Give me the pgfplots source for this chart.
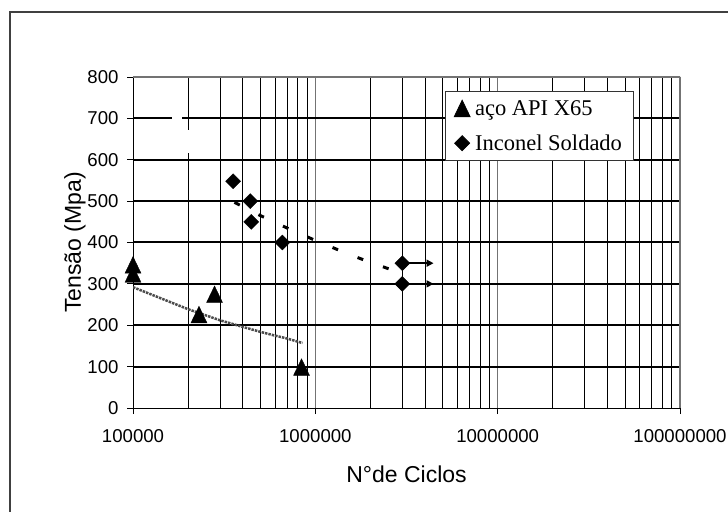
\documentclass[border=0pt]{standalone}
\usepackage{fontspec}
\setmainfont{Liberation Sans}
\newfontfamily\legfont{Liberation Serif}
\usepackage{pgfplots}
\pgfplotsset{compat=1.18}
\usetikzlibrary{arrows.meta}
\begin{document}
\begin{tikzpicture}
\useasboundingbox (0,0) rectangle (728bp,512bp);
\draw[line width=2bp, black!75] (10bp,0) -- (10bp,500bp) -- (728bp,500bp);
\begin{axis}[
  at={(133bp,104bp)}, anchor=south west,
  scale only axis, width=547bp, height=331bp,
  xmode=log, xmin=1e5, xmax=1e8, ymin=0, ymax=800,
  axis x line*=bottom, axis y line*=left,
  axis line style={black, line width=0.8bp},
  xtick={1e5,1e6,1e7,1e8}, xticklabels={100000,1000000,10000000,100000000},
  ytick={100,200,...,700}, extra y ticks={0,800}, extra y tick style={grid=none},
  ymajorgrids, xmajorgrids, xminorgrids,
  major y grid style={black, line width=2bp},
  major x grid style={black!55, line width=1bp},
  minor x grid style={black, line width=0.6bp},
  tick align=outside, major tick length=6bp, minor tick length=0bp,
  tick style={black, line width=0.8bp},
  tick label style={font=\fontsize{18.6bp}{20bp}\selectfont},
  xticklabel style={yshift=-12bp},
  yticklabel style={xshift=-5bp},
  /pgf/number format/assume math mode=true,
  every axis y label/.style={at={(axis description cs:-0.106,0.5)}, rotate=90, anchor=center, font=\fontsize{23bp}{25bp}\selectfont},
  every axis x label/.style={at={(axis description cs:0.50,-0.200)}, anchor=center, font=\fontsize{23bp}{25bp}\selectfont},
  ylabel={Tensão (Mpa)}, xlabel={N°de Ciclos},
  legend style={at={(0.570,0.958)}, anchor=north west, draw=black!80, line width=0.8bp,
    font=\legfont\fontsize{22.5bp}{24bp}\selectfont, inner xsep=9bp, inner ysep=7bp, row sep=14bp, column sep=3bp,
    cells={anchor=west}},
]
\draw[black!55, line width=1.2bp] (rel axis cs:0,1) -- (rel axis cs:1,1) -- (rel axis cs:1,0);
\addplot[forget plot, black!70, line width=2.5bp, densely dotted] coordinates {(1e5,292)(2e5,239)(3e5,212)(4e5,196)(5e5,184)(6e5,175)(7e5,168)(8.5e5,157)};
\addplot[forget plot, black, line width=3bp, dash pattern=on 6bp off 21bp] coordinates {(3.6e5,497)(5e5,465)(7e5,435)(1e6,405)(1.5e6,373)(2e6,352)(3e6,325)};
\addplot[forget plot, black, line width=1.5bp, -{Triangle[length=7bp,width=7bp]}] coordinates {(3e6,350)(4.45e6,350)};
\addplot[forget plot, black, line width=1.5bp, -{Triangle[length=7bp,width=7bp]}] coordinates {(3e6,300)(4.45e6,300)};
\fill[white] (axis cs:1.64e5,688) rectangle (axis cs:1.86e5,712);
\fill[white] (axis cs:1.96e5,617) rectangle (axis cs:2.04e5,673);
\addplot[only marks, black, mark=triangle*, mark size=9.2bp, mark options={yshift=-2.8bp, yscale=1.2}] coordinates {(1e5,346)(1e5,324)(2.3e5,226)(2.8e5,275)(8.4e5,99)};
\addlegendentry{aço API X65}
\addplot[only marks, black, mark=square*, mark size=5.3bp, mark options={rotate=45}] coordinates {(3.54e5,548)(4.4e5,500)(4.45e5,450)(6.6e5,400)(3e6,350)(3e6,300)};
\addlegendentry{Inconel Soldado}
\end{axis}
\end{tikzpicture}
\end{document}
